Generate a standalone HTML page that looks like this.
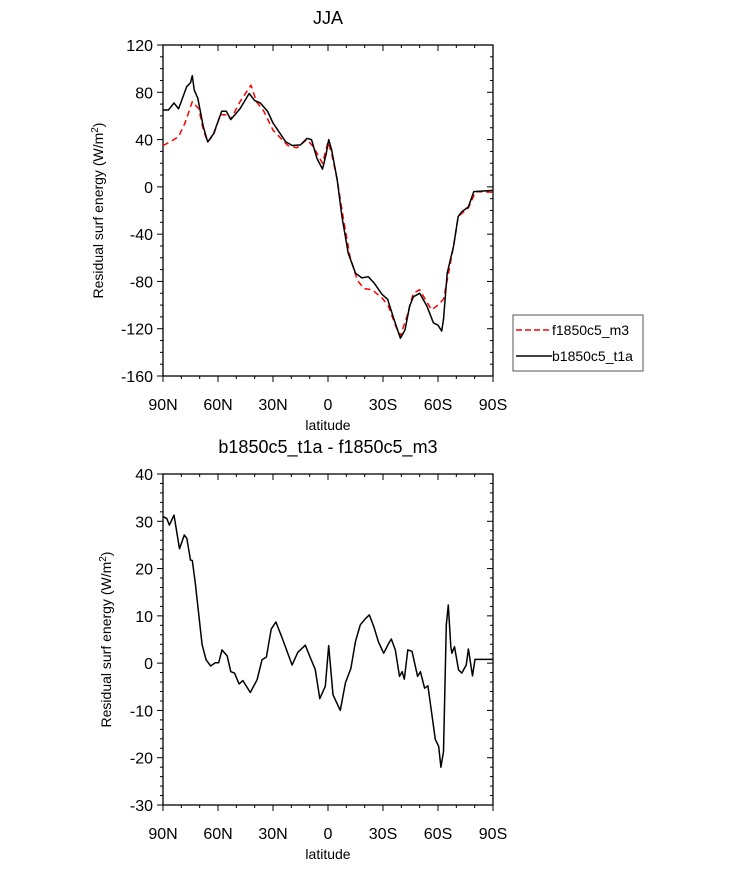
<!DOCTYPE html>
<html><head><meta charset="utf-8"><style>
body{margin:0;background:#fff}
svg{display:block;font-family:"Liberation Sans",sans-serif}
</style></head><body>
<svg id="s" width="733" height="869"></svg>
<script>
// Top panel data (latitude, value)
const topLatB=[90,87,84,81.5,77,75,74,73,71,68,65.6,62.4,58,55.5,53,48,43,40,37,33,30,23,19.5,15,11.5,9,6,3,1,-0.4,-2,-5,-7.6,-11,-15,-18.5,-22,-25,-29.5,-32.5,-36,-39.5,-42,-44.5,-46.5,-50,-54,-57.5,-60,-62,-63,-65,-68.5,-71,-73,-76.5,-79.5,-90];
const topValB=[65,65,71,66,85,88,94,82,75,51,38,45,64,64,57,66,79,73,71,64,54,38,35,35.5,41,40,24,15,28,40,31,6,-25,-56,-73,-77,-76,-81,-91,-95,-112,-128,-121,-101,-93,-90,-101,-115,-117,-122,-112,-73,-50,-25,-21,-17,-4,-3];
const topLatR=[90,86,81.5,78,74,70.5,68,65.6,62.4,58.7,55,53,48,42,39,35,30,22,17,11.5,8,3,0,-2,-5,-8.5,-12,-16,-19.5,-24,-29.5,-33,-37,-39.5,-43,-46.5,-50,-53,-56.5,-60,-63,-65,-68.5,-71,-76.5,-80.5,-90];
const topValR=[35,38,42.5,54,72,66,48,38,44,61,61,57,72,86,72,64,48,35,33,40,34,20,38,28,6,-28,-59,-79,-86,-87,-94,-101,-118,-126,-110,-90,-87,-95,-104,-100,-95,-79,-50,-25,-18,-4,-4.5];
// Bottom panel data
const botLat=[90,88,86.5,84,81,78.4,77,75,74,72.4,68.7,66.5,64,61.5,59.6,57.8,55,53,51,48.5,46.4,42.4,38.7,36,33.6,31,28.4,25,19.6,16.5,12.4,9.6,7,4.5,1.5,-0.4,-2.7,-6.7,-9.5,-12.5,-15,-17.6,-20.4,-22.5,-25,-27.6,-30.4,-33,-34.5,-36.7,-39,-40.4,-41.6,-43.5,-45.8,-48.9,-50.4,-52.7,-54.5,-58.5,-60.4,-61.6,-63,-64.5,-65.6,-67,-67.6,-69,-71.2,-73,-75.4,-76.6,-78.8,-80.2,-90];
const botVal=[31,30.6,29.2,31.3,24.2,27.1,26.4,21.8,21.7,16.9,3.9,0.7,-0.6,0.1,0.1,2.8,1.5,-1.8,-2.1,-4.4,-3.7,-6.2,-3.5,0.7,1.3,7.2,8.7,5.3,-0.4,2.3,3.8,1.1,-1.3,-7.5,-4.9,3.7,-6.7,-10,-4.2,-1.1,4.6,8.1,9.4,10.2,7.7,4.4,2.1,4.1,5.1,2.8,-2.8,-1.8,-3.4,2.8,2.5,-2.8,-1.8,-5.3,-4.8,-16.1,-17.6,-22,-18.7,8.1,12.3,3.5,2.1,3.5,-1.4,-2.1,-0.4,3,-2.7,0.8,0.8];
const xTickLat=[90,60,30,0,-30,-60,-90];
const xTickLabels=["90N","60N","30N","0","30S","60S","90S"];
const topYTicks=[120,80,40,0,-40,-80,-120,-160];
const botYTicks=[40,30,20,10,0,-10,-20,-30];

const NS="http://www.w3.org/2000/svg";
const svg=document.getElementById('s');
function mk(tag,attrs,parent){const e=document.createElementNS(NS,tag);for(const k in attrs)e.setAttribute(k,attrs[k]);(parent||svg).appendChild(e);return e;}
const X0=163,X1=493;
function xs(lat){return X0+(90-lat)/180*(X1-X0);}

function panel(name,yTop,yBot,ymax,ymin,yTicks,minorStep,title){
  const g=mk('g',{});
  
  
  const ys=v=>yTop+(ymax-v)/(ymax-ymin)*(yBot-yTop);
  for(let l=90;l>=-90;l-=10){const x=xs(l);const maj=(l%30===0);const L=maj?6:3;
    mk('line',{x1:x,x2:x,y1:yBot,y2:yBot+L,stroke:'#000','stroke-width':1},g);
    mk('line',{x1:x,x2:x,y1:yTop,y2:yTop+L,stroke:'#000','stroke-width':1},g);
  }
  for(let v=ymin;v<=ymax+1e-9;v+=minorStep){const y=ys(v);const maj=yTicks.some(t=>Math.abs(t-v)<1e-6);const L=maj?6:3;
    mk('line',{x1:X0-L,x2:X0,y1:y,y2:y,stroke:'#000','stroke-width':1},g);
    mk('line',{x1:X1-L,x2:X1,y1:y,y2:y,stroke:'#000','stroke-width':1},g);
  }
  mk('rect',{x:X0,y:yTop,width:X1-X0,height:yBot-yTop,fill:'none',stroke:'#000','stroke-width':1.3},g);
  xTickLat.forEach((l,i)=>{const t=mk('text',{x:xs(l),y:yBot+34,'text-anchor':'middle','font-size':16},g);t.textContent=xTickLabels[i];
    
    });
  yTicks.forEach(v=>{const t=mk('text',{x:X0-10,y:ys(v)+6,'text-anchor':'end','font-size':16},g);t.textContent=String(v);
    
    });
  const xt=mk('text',{x:(X0+X1)/2,y:yBot+54,'text-anchor':'middle','font-size':14},g);xt.textContent='latitude';
  
  
  const cy=(yTop+yBot)/2;
  const yt=mk('text',{x:0,y:0,'text-anchor':'middle','font-size':14,transform:`translate(${name==='top-panel'?103:111},${cy}) rotate(-90)`},g);
  yt.innerHTML='Residual surf energy (W/m<tspan dy="-5" font-size="10">2</tspan><tspan dy="5">)</tspan>';
  
  
  const tt=mk('text',{x:(X0+X1)/2,y:yTop-21,'text-anchor':'middle','font-size':18},g);tt.textContent=title;
  
  
  return {g,ys};
}
function line(g,lats,vals,ys,color,dash,nm){
  const d=lats.map((l,i)=>(i?'L':'M')+xs(l).toFixed(1)+','+ys(vals[i]).toFixed(1)).join('');
  const p=mk('path',{d,fill:'none',stroke:color,'stroke-width':1.5,'stroke-dasharray':dash||'none','stroke-linejoin':'round'},g);
  
  
}
const T=panel('top-panel',45,376,120,-160,topYTicks,10,'JJA');
line(T.g,topLatR,topValR,T.ys,'#f00','6,4','series-f1850c5-m3');
line(T.g,topLatB,topValB,T.ys,'#000',null,'series-b1850c5-t1a');
const B=panel('bottom-panel',474,805,40,-30,botYTicks,2,'b1850c5_t1a - f1850c5_m3');
line(B.g,botLat,botVal,B.ys,'#000',null,'series-difference');

const lg=mk('g',{});


mk('rect',{x:513,y:315,width:130,height:56,fill:'#fff',stroke:'#555','stroke-width':1},lg);
mk('line',{x1:516,x2:552,y1:330,y2:330,stroke:'#f00','stroke-width':1.5,'stroke-dasharray':'6,3'},lg);
mk('line',{x1:516,x2:552,y1:356,y2:356,stroke:'#000','stroke-width':1.5},lg);
const l1=mk('text',{x:552,y:335,'font-size':14},lg);l1.textContent='f1850c5_m3';


const l2=mk('text',{x:552,y:361,'font-size':14},lg);l2.textContent='b1850c5_t1a';


</script>
</body></html>
